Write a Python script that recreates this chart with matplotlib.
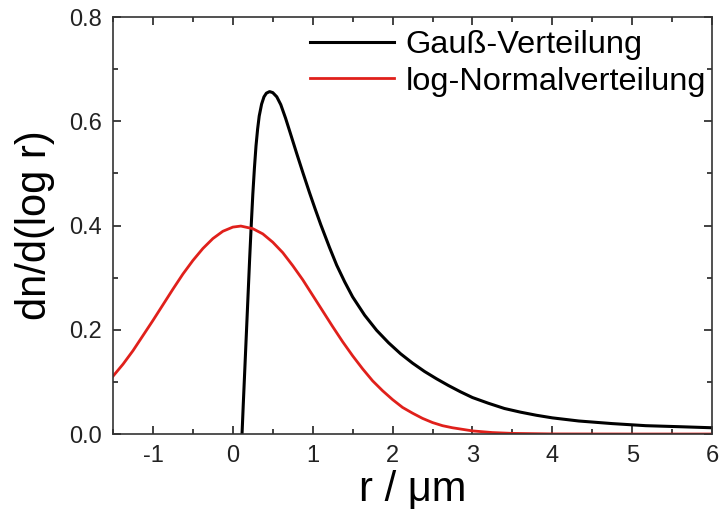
import matplotlib
matplotlib.use("Agg")
import matplotlib.pyplot as plt
from matplotlib.ticker import MultipleLocator

plt.rcParams['font.family'] = ['Liberation Sans', 'DejaVu Sans']
plt.rcParams['axes.unicode_minus'] = False

# Gauß-Verteilung (schwarz)
gauss_r = [0.115, 0.13, 0.15, 0.17, 0.19, 0.21, 0.23, 0.25, 0.27, 0.29, 0.31, 0.33,
           0.36, 0.39, 0.42, 0.46, 0.50, 0.55, 0.60, 0.66, 0.72, 0.80, 0.88, 0.96,
           1.03, 1.10, 1.21, 1.30, 1.40, 1.50, 1.65, 1.80, 1.95, 2.10, 2.25, 2.40,
           2.55, 2.70, 2.85, 3.00, 3.20, 3.40, 3.60, 3.80, 4.00, 4.33, 4.75, 5.17,
           5.60, 6.00]
gauss_n = [0.0, 0.055, 0.125, 0.195, 0.265, 0.335, 0.40, 0.46, 0.51, 0.553, 0.585, 0.61,
           0.633, 0.647, 0.654, 0.657, 0.655, 0.647, 0.632, 0.606, 0.577, 0.538, 0.500, 0.463,
           0.432, 0.402, 0.358, 0.324, 0.292, 0.263, 0.228, 0.199, 0.175, 0.154, 0.136, 0.120,
           0.106, 0.093, 0.081, 0.070, 0.059, 0.049, 0.042, 0.036, 0.031, 0.025, 0.020, 0.016,
           0.014, 0.012]

# log-Normalverteilung (rot)
lognorm_r = [-1.5, -1.375, -1.25, -1.125, -1.0, -0.875, -0.75, -0.625, -0.5, -0.375,
             -0.25, -0.125, 0.0, 0.1, 0.25, 0.375, 0.5, 0.625, 0.75, 0.875, 1.0,
             1.125, 1.25, 1.375, 1.5, 1.625, 1.75, 1.875, 2.0, 2.125, 2.25, 2.375,
             2.5, 2.625, 2.75, 3.0, 3.25, 3.5, 4.0, 5.0, 6.0]
lognorm_n = [0.111, 0.134, 0.160, 0.189, 0.218, 0.248, 0.278, 0.307, 0.333, 0.356,
             0.375, 0.389, 0.397, 0.399, 0.394, 0.384, 0.368, 0.348, 0.323, 0.296, 0.266,
             0.236, 0.206, 0.177, 0.150, 0.125, 0.102, 0.083, 0.066, 0.051, 0.040, 0.030,
             0.022, 0.016, 0.012, 0.006, 0.0028, 0.0012, 0.0002, 0.0, 0.0]

fig = plt.figure(figsize=(7.2, 5.17), dpi=100)
ax = fig.add_axes([0.157, 0.1605, 0.832, 0.8065])

ax.plot(gauss_r, gauss_n, color='black', lw=2.2, label='Gauß-Verteilung',
        solid_joinstyle='round')
ax.plot(lognorm_r, lognorm_n, color='#e0201b', lw=2.0, label='log-Normalverteilung',
        solid_joinstyle='round')

ax.set_xlim(-1.5, 6)
ax.set_ylim(0, 0.8)
ax.xaxis.set_major_locator(MultipleLocator(1))
ax.xaxis.set_minor_locator(MultipleLocator(0.5))
ax.yaxis.set_major_locator(MultipleLocator(0.2))
ax.yaxis.set_minor_locator(MultipleLocator(0.1))
ax.yaxis.set_major_formatter(plt.FuncFormatter(lambda v, p: f'{v:.1f}'))
ax.tick_params(which='both', direction='in', top=True, right=True, width=1.2,
               labelsize=17, colors='#222222')
ax.tick_params(which='major', length=6, pad=8)
ax.tick_params(which='minor', length=3.5)
for s in ax.spines.values():
    s.set_linewidth(1.2)
    s.set_color('#333333')

ax.set_xlabel('r / μm', fontsize=30, labelpad=2)
ax.set_ylabel('dn/d(log r)', fontsize=30, labelpad=10)

ax.legend(loc='upper right', frameon=False, fontsize=23.4, handlelength=2.6,
          handletextpad=0.35, labelspacing=0.2, borderaxespad=0.0,
          bbox_to_anchor=(1.012, 1.0))

fig.savefig('out.png', dpi=100)
